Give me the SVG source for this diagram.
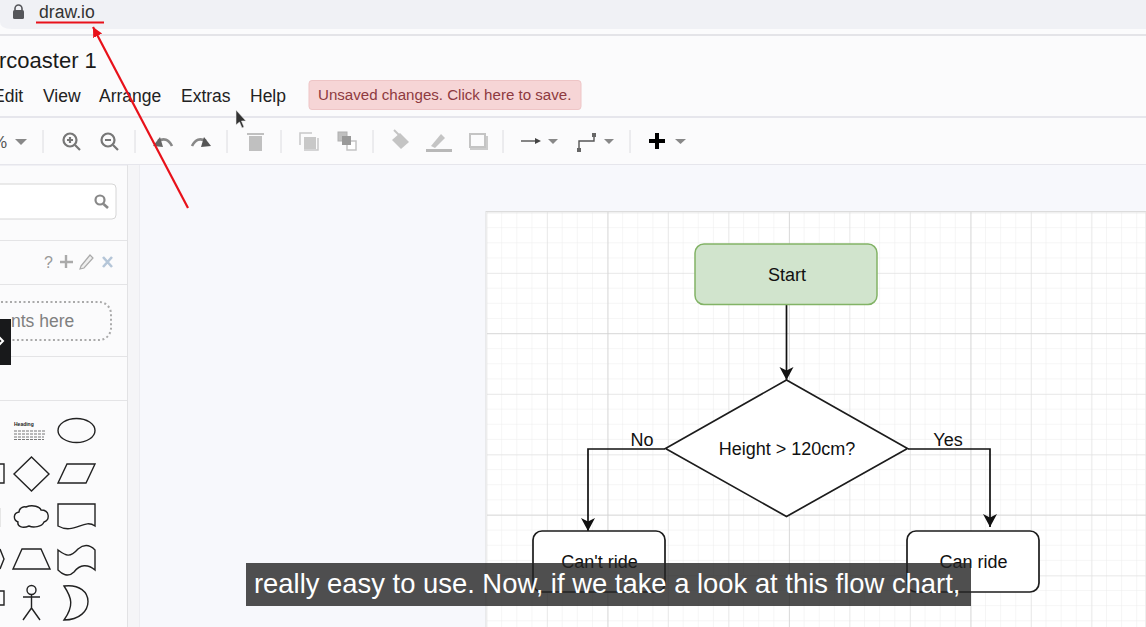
<svg xmlns="http://www.w3.org/2000/svg" width="1146" height="627" viewBox="0 0 1146 627">
<defs>
<style>
text{font-family:"Liberation Sans",Arial,sans-serif}
.menu{font-size:17.5px;fill:#222}
.node{font-size:18px;fill:#111;text-anchor:middle}
.icon{fill:none;stroke:#777;stroke-width:2.2}
.dis{fill:none;stroke:#c4c4c4;stroke-width:2}
.sep{stroke:#dcdce0;stroke-width:1}
.shape{fill:#fff;stroke:#1c1c1c;stroke-width:1.700}
.caret{fill:#888}
.conn{fill:none;stroke:#111;stroke-width:1.700}
</style>
<marker id="arrow" markerUnits="userSpaceOnUse" markerWidth="16" markerHeight="16" refX="13" refY="7" orient="auto"><path d="M0 0L13 7L0 14L3.5 7Z" fill="#111"/></marker>
<marker id="red" markerUnits="userSpaceOnUse" markerWidth="12" markerHeight="12" refX="10" refY="5" orient="auto"><path d="M0 0L10 5L0 10Z" fill="#e8111a"/></marker>
<pattern id="g1" width="15.12" height="15.12" patternUnits="userSpaceOnUse" x="486.1" y="212.1"><path d="M0 0V15.12M0 0H15.12" fill="none" stroke="#ececec" stroke-width="1"/></pattern>
<pattern id="g2" width="60.5" height="60.5" patternUnits="userSpaceOnUse" x="486.5" y="212.5"><path d="M0 0V60.5M0 0H60.5" fill="none" stroke="#dedede" stroke-width="1"/></pattern>
<pattern id="g3" width="181.5" height="181.5" patternUnits="userSpaceOnUse" x="607.5" y="151.5"><path d="M0 0V181.5M0 0H181.5" fill="none" stroke="#cdcdcd" stroke-width="1"/></pattern>
</defs>
<rect width="1146" height="627" fill="#fbfbfc"/>
<g id="browser-bar">
<path d="M0 0H1146V29H12Q0 29 0 22Z" fill="#f0f1f5"/>
<rect x="0" y="34" width="1146" height="2" fill="#e4e4e8"/>
<rect x="13" y="10" width="11" height="9" rx="1.5" fill="#55565a"/>
<path d="M15 10.5V8.5a3.5 3.5 0 0 1 7 0V10.5" fill="none" stroke="#55565a" stroke-width="1.6"/>
<text x="39" y="18" font-size="17.600" fill="#333">draw.io</text>
</g>
<text x="-1" y="68" font-size="22" fill="#1a1a1a">rcoaster 1</text>
<g id="menu">
<text class="menu" x="-7" y="102">Edit</text>
<text class="menu" x="43" y="102">View</text>
<text class="menu" x="99" y="102">Arrange</text>
<text class="menu" x="181" y="102">Extras</text>
<text class="menu" x="250" y="102">Help</text>
<rect x="309" y="80.500" width="272" height="29" rx="3" fill="#f6d5d6" stroke="#eec5c6"/>
<text x="318" y="100" font-size="15.100" fill="#8e3a40">Unsaved changes. Click here to save.</text>
</g>
<rect x="0" y="116" width="1146" height="2" fill="#e6e6ec"/>
<rect x="0" y="164" width="1146" height="1.500" fill="#e6e6ec"/>
<g id="toolbar">
<text x="-8" y="148" font-size="17" fill="#555">%</text>
<path class="caret" d="M15 139H27L21 145Z"/>
<path class="sep" d="M43 130V153M135 130V153M227 130V153M281 130V153M373 130V153M503 130V153M630 130V153"/>
<circle class="icon" cx="70" cy="140" r="6.500"/><path class="icon" d="M75 145L80 150M67 140H73M70 137V143"/>
<circle class="icon" cx="108" cy="140" r="6.500"/><path class="icon" d="M113 145L118 150M105 140H111"/>
<path d="M172 146Q167 136 158 141" fill="none" stroke="#888" stroke-width="2.600"/><path d="M153 146L160 137L163 147Z" fill="#666"/>
<path d="M192 146Q197 136 206 141" fill="none" stroke="#888" stroke-width="2.600"/><path d="M211 146L204 137L201 147Z" fill="#555"/>
<path d="M247 134H264M250 137H261V150H250Z" fill="#c0c0c0" stroke="#c0c0c0" stroke-width="2"/>
<rect x="304" y="137" width="12" height="12" fill="#c8c8c8"/><path d="M300 145V133H312M304 150H318V138" fill="none" stroke="#c8c8c8" stroke-width="1.500"/>
<rect x="338" y="132" width="9" height="9" fill="#c0c0c0" stroke="#b0b0b0"/><rect x="347" y="141" width="9" height="9" fill="#fff" stroke="#c4c4c4" stroke-width="1.500"/><rect x="342" y="136" width="9" height="9" fill="#999"/>
<path d="M392 140L400 133L409 142L401 149Z" fill="#c4c4c4"/><path class="dis" d="M394 130L400 136"/>
<path d="M431 146L441 134L445 138L435 148Z" fill="#c4c4c4"/><rect x="426" y="149" width="26" height="3" fill="#b8b8b8"/>
<rect class="dis" x="470" y="134" width="15" height="13" stroke="#bbb"/><path d="M470 149H487V136" fill="none" stroke="#ccc" stroke-width="2"/>
<path d="M521 141H538" stroke="#444" stroke-width="1.300" fill="none"/><path d="M535 138L541 141L535 144Z" fill="#444"/>
<path class="caret" d="M548 139H558L553 144Z"/>
<path d="M579 149V141H594V134" fill="none" stroke="#555" stroke-width="1.400"/><rect x="577" y="148" width="4" height="4" fill="#666"/><rect x="592" y="133" width="4" height="4" fill="#666"/>
<path class="caret" d="M604 139H614L609 144Z"/>
<path d="M657 133V149M649 141H665" stroke="#000" stroke-width="4" fill="none"/>
<path class="caret" d="M675 139H686L680.500 144Z"/>
</g>
<g id="sidebar">
<rect x="127" y="165" width="12" height="462" fill="#f5f5f7"/>
<path d="M127.500 165V627" stroke="#e2e2e4" fill="none"/>
<path d="M139.500 165V627" stroke="#ececf0" fill="none"/>
<rect x="-6" y="184" width="122" height="35" rx="4" fill="#fff" stroke="#d6d6d6"/>
<circle cx="100" cy="200" r="4.500" fill="none" stroke="#888" stroke-width="2.200"/><path d="M103.500 204L108 208" stroke="#888" stroke-width="2.600"/>
<path d="M0 240.500H127M0 284.500H127M0 356.500H127M0 400.500H127" stroke="#e4e4e6" fill="none"/>
<text x="44" y="268" font-size="16" fill="#999">?</text>
<path d="M66 255V268M60 262H73" stroke="#aaa" stroke-width="2.400" fill="none"/>
<path d="M81 266L90 255L93 258L84 268L80 269Z" fill="#eee" stroke="#aaa" stroke-width="1.200"/>
<path d="M103 257L112 267M112 257L103 267" stroke="#b5c6d8" stroke-width="2.600" fill="none"/>
<rect x="-20" y="302" width="131" height="38" rx="12" fill="none" stroke="#aaa" stroke-width="2" stroke-dasharray="2 2.500"/>
<text x="11" y="327" font-size="17.500" fill="#808080">nts here</text>
<rect x="-2" y="319" width="13" height="46" fill="#18191b"/>
<path d="M-1 337L3 341L-1 345" fill="none" stroke="#fff" stroke-width="2"/>
</g>
<g id="shapes" fill="none" stroke="#222" stroke-width="1.400">
<text x="14" y="426" font-size="5" font-weight="bold" fill="#222" stroke="none">Heading</text>
<path d="M14 431H46M14 434H46M14 437H44M14 439.500H44" stroke="#777" stroke-width="1.200" stroke-dasharray="3 1"/>
<ellipse cx="76.500" cy="430.500" rx="18.500" ry="12"/>
<path d="M0 464H4V483H0"/>
<path d="M31.500 457L49 474L31.500 491L14 474Z"/>
<path d="M67 464H95L86 483H58Z"/>
<path d="M0 508V527" stroke="#ddd"/>
<path d="M26 507C33 504 40 507 41 510C50 510 50 520 44 522C42 527 33 528 29 526C22 529 17 526 18 522C13 520 13 513 19 512C19 508 24 506 26 507Z"/>
<path d="M58 504H95V526C84 518 74 535 58 526Z"/>
<path d="M0 549L4 559L0 569"/>
<path d="M22 549H41L50 569H13Z"/>
<path d="M58 550C66 556 70 558 78 549C84 544 90 545 95 550V570C88 564 80 564 74 572C68 578 62 574 58 570Z"/>
<path d="M0 591H4V605H0"/>
<circle cx="31.500" cy="590" r="4.500"/><path d="M31.500 594.500V608M23 597H40M31.500 608L23 620M31.500 608L40 620"/>
<path d="M64 586C96 582 96 620 64 620C74 606 72 598 64 586Z"/>
</g>
<rect x="140" y="165" width="1006" height="462" fill="#f7f8fc"/>
<g id="page">
<rect x="486" y="211.500" width="660" height="416" fill="#fff" stroke="#dcdcdc"/>
<rect x="487" y="212" width="659" height="415" fill="url(#g1)"/>
<rect x="487" y="212" width="659" height="415" fill="url(#g2)"/>
<rect x="487" y="212" width="659" height="415" fill="url(#g3)"/>
</g>
<g id="connectors">
<path class="conn" d="M786.500 305V380" marker-end="url(#arrow)"/>
<path class="conn" d="M665 449H588V531" marker-end="url(#arrow)"/>
<path class="conn" d="M908 449H990V527" marker-end="url(#arrow)"/>
</g>
<g id="node-start"><rect x="695" y="244" width="182" height="60.500" rx="9" fill="#d1e4cd" stroke="#82b366" stroke-width="1.500"/><text class="node" x="787" y="281">Start</text></g>
<g id="node-decision"><path class="shape" d="M786.500 380L907.500 448.500L786.500 516.500L665.500 448.500Z"/><text class="node" x="787" y="455">Height &gt; 120cm?</text></g>
<g id="label-no"><text class="node" x="642" y="446">No</text></g>
<g id="label-yes"><text class="node" x="948" y="446">Yes</text></g>
<g id="node-cant"><rect x="533" y="531" width="132" height="61" rx="9" class="shape"/><text class="node" x="599.500" y="568">Can't ride</text></g>
<g id="node-can"><rect x="907" y="531" width="132" height="61" rx="9" class="shape"/><text class="node" x="973.500" y="568">Can ride</text></g>
<g id="annotation">
<path d="M36 22.500H104" stroke="#e8111a" stroke-width="2.200" fill="none"/>
<path d="M188 208L93 27" stroke="#e8111a" stroke-width="2.200" fill="none" marker-end="url(#red)"/>
</g>
<path id="cursor" d="M236 110V125L239.500 122L242 128L244 127L241.500 121L246 121Z" fill="#333" stroke="#eee" stroke-width=".6"/>
<g id="caption">
<rect x="246" y="563" width="725" height="43" fill="#232323" fill-opacity=".8"/>
<text x="254" y="593" font-size="27.400" fill="#fff">really easy to use. Now, if we take a look at this flow chart,</text>
</g>
</svg>
